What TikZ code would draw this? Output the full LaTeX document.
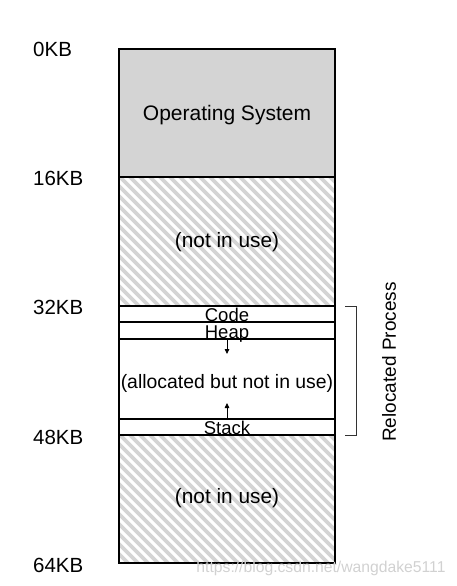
\documentclass[tikz,border=0pt]{standalone}
\usepackage{fontspec}
\setmainfont{Liberation Sans}
\usetikzlibrary{arrows.meta,calc}
\definecolor{osgray}{HTML}{D4D4D4}
\definecolor{hatchgray}{HTML}{D4D4D4}
\tikzset{
  region/.style={draw=black, line width=1.2pt, minimum width=216pt, inner sep=0pt, outer sep=0pt},
  hatched/.style={region, path picture={
      \foreach \k in {-22,...,24}
        \draw[hatchgray, line width=3.6pt]
          ($(path picture bounding box.north west)+(\k*10-4,-5)$) -- ++(150,150);
    }},
  lbl/.style={font=\fontsize{20.8}{24}\selectfont, inner sep=0pt},
  kb/.style={font=\fontsize{20.5}{24}\selectfont, inner sep=0pt, anchor=west},
  cell/.style={font=\fontsize{18.5}{22}\selectfont, inner sep=0pt, anchor=base},
  arr/.style={-{Triangle[length=5pt,width=4.5pt]}, line width=0.8pt},
}
\begin{document}
\begin{tikzpicture}[x=1pt,y=-1pt]
\useasboundingbox (0,0) rectangle (456,586);
% regions
\node[region, fill=osgray, minimum height=128pt] (os) at (227,113) {};
\node[hatched, minimum height=129pt] (free1) at (227,241.5) {};
\node[region, minimum height=16pt] (code) at (227,314) {};
\node[region, minimum height=17pt] (heap) at (227,330.5) {};
\node[region, minimum height=80pt] (alloc) at (227,379) {};
\node[region, minimum height=16pt] (stack) at (227,427) {};
\node[hatched, minimum height=128pt] (free2) at (227,499) {};
% frame
\draw[line width=2pt] (os.south west) -- (os.south east);
\draw[line width=2pt] (os.north west) rectangle (free2.south east);
% texts in regions
\node[lbl, font=\fontsize{21}{24}\selectfont] (ostxt) at (227,115) {Operating System};
\node[lbl] (f1txt) at (227,242) {(not in use)};
\node[lbl] (f2txt) at (227,498) {(not in use)};
\node[lbl, font=\fontsize{19.4}{22}\selectfont] (atxt) at (227,383) {(allocated but not in use)};
\node[cell] (ctxt) at (227,321.5) {Code};
\node[cell] (htxt) at (227,338) {Heap};
\node[cell] (stxt) at (227,434.5) {Stack};
% arrows
\coordinate (ha) at (227,354);
\coordinate (sa) at (227,403);
\draw[arr] (heap.south) -- (ha);
\draw[arr] (stack.north) -- (sa);
% KB labels
\node[kb] (k0) at (33,49.5) {0KB};
\node[kb] (k16) at (33,178) {16KB};
\node[kb] (k32) at (33,307) {32KB};
\node[kb] (k48) at (33,437) {48KB};
\node[kb] (k64) at (33,565) {64KB};
% bracket
\coordinate (bt) at (345,306);
\coordinate (bb) at (345,435);
\draw[line width=1pt, black!80] (bt) -- ++(11,0) |- (bb);
\node[lbl, font=\fontsize{19}{22}\selectfont, rotate=90] (rp) at (389,362) {Relocated Process};
% watermark
\node[font=\fontsize{15.7}{18}\selectfont, text=black!18, inner sep=0pt] (wm) at (321,568) {https://blog.csdn.net/wangdake5111};
\end{tikzpicture}
\end{document}
